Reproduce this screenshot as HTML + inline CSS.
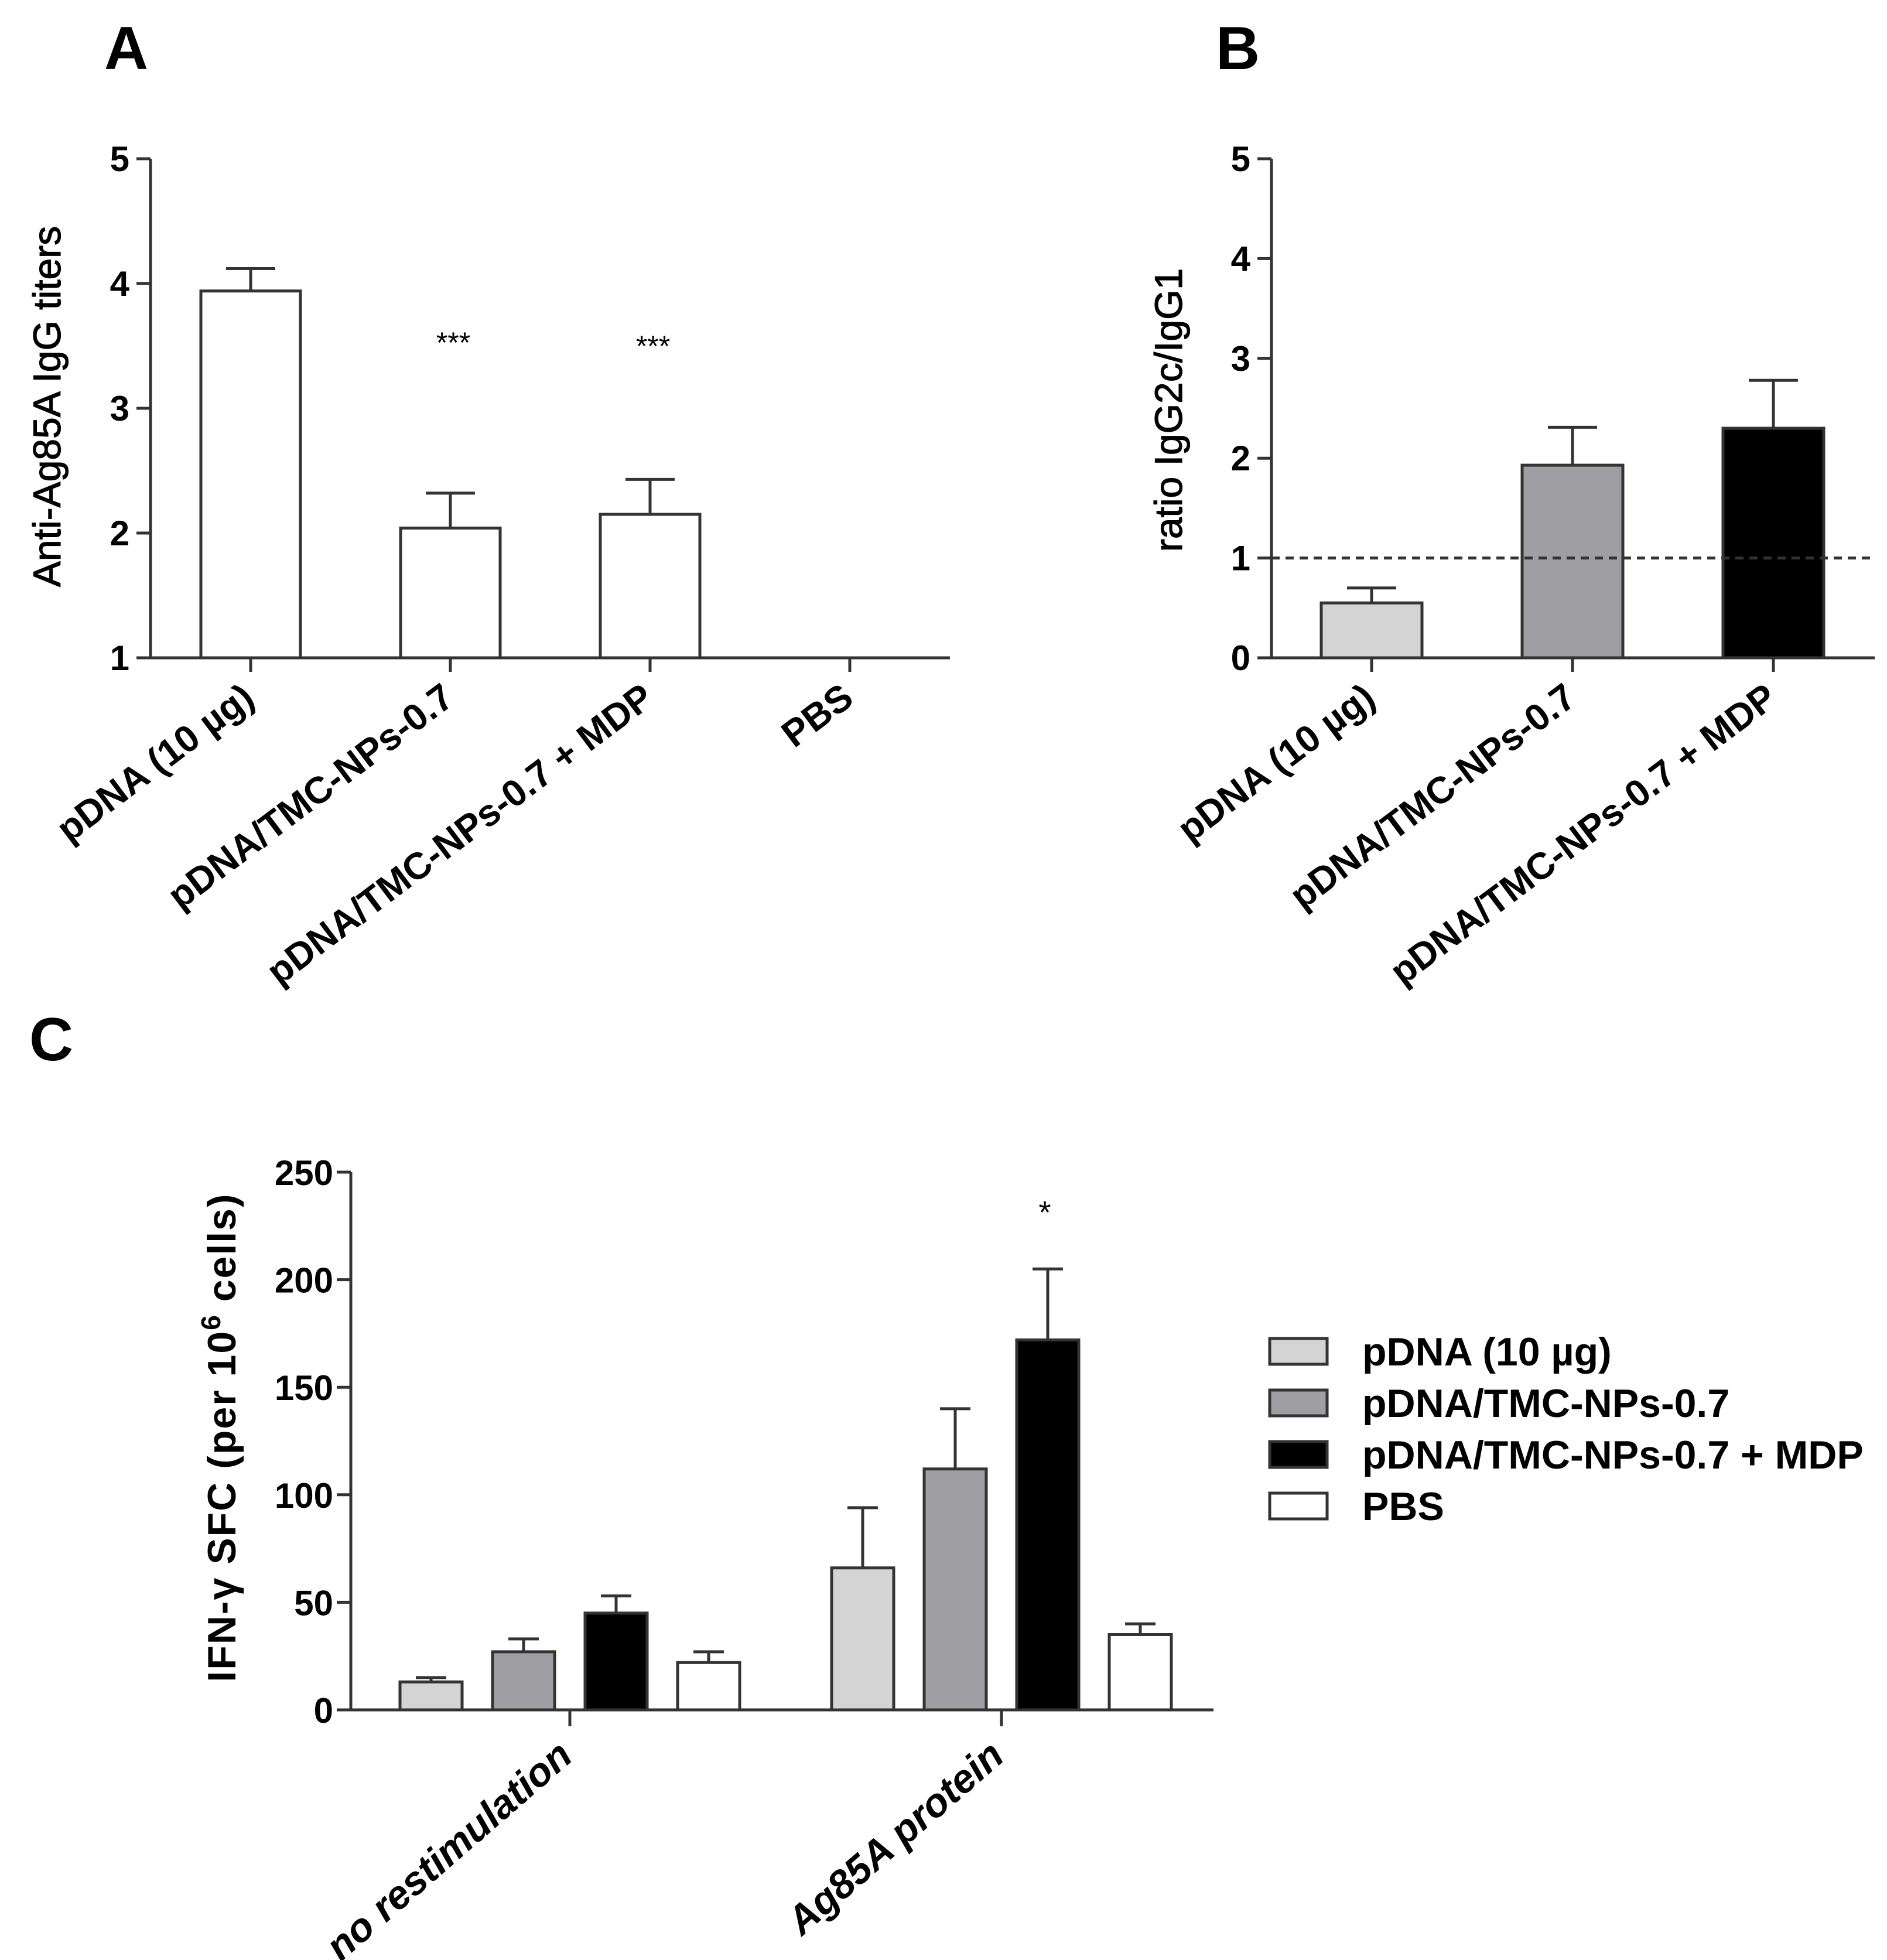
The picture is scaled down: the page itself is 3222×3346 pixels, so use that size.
<!DOCTYPE html>
<html><head><meta charset="utf-8"><style>
html,body{margin:0;padding:0;background:#fff;}
svg{display:block;font-family:"Liberation Sans",Arial,sans-serif;}
</style></head><body>
<svg id="fig" width="3222" height="3346" viewBox="0 0 3222 3346" xmlns="http://www.w3.org/2000/svg">
<rect width="3222" height="3346" fill="#fff"/>
</svg>
<script>
// Panel A data
const catsA = ["pDNA (10 \u00b5g)", "pDNA/TMC-NPs-0.7", "pDNA/TMC-NPs-0.7 + MDP", "PBS"];
const valsA = [3.94, 2.04, 2.15, null];
const errA = [0.18, 0.28, 0.28, null];
const sigA = ["", "***", "***", ""];
const ticksA = [1, 2, 3, 4, 5];
// Panel B data
const catsB = ["pDNA (10 \u00b5g)", "pDNA/TMC-NPs-0.7", "pDNA/TMC-NPs-0.7 + MDP"];
const valsB = [0.55, 1.93, 2.30];
const errB = [0.15, 0.38, 0.48];
const ticksB = [0, 1, 2, 3, 4, 5];
const refLineB = 1;
// Panel C data
const groupsC = ["no restimulation", "Ag85A protein"];
const seriesC = ["pDNA (10 \u00b5g)", "pDNA/TMC-NPs-0.7", "pDNA/TMC-NPs-0.7 + MDP", "PBS"];
const pDNA_C = [13, 66];
const tmc_C = [27, 112];
const mdp_C = [45, 172];
const pbs_C = [22, 35];
const errPDNA_C = [2, 28];
const errTMC_C = [6, 28];
const errMDP_C = [8, 33];
const errPBS_C = [5, 5];
const sigC = [["", "", "", ""], ["", "", "*", ""]];
const ticksC = [0, 50, 100, 150, 200, 250];

const svg = document.getElementById('fig');
const NS = "http://www.w3.org/2000/svg";
function mk(tag, attrs, parent) {
  const e = document.createElementNS(NS, tag);
  for (const k in attrs) e.setAttribute(k, attrs[k]);
  (parent || svg).appendChild(e);
  return e;
}
function txt(s, attrs, parent) { const t = mk('text', attrs, parent); t.textContent = s; return t; }
const fills = ["#d4d4d4", "#9e9ea3", "#000000", "#ffffff"];
const LW = 5;

// ---------- Panel A ----------
(function () {
  const g = mk('g', {});
  
  
  const x0 = 257, x1 = 1622, yTop = 271, yBot = 1123, vMin = 1, vMax = 5;
  const y = v => yBot - (v - vMin) / (vMax - vMin) * (yBot - yTop);
  const step = 341, first = 428, bw = 170;
  const xc = i => first + i * step;
  const L = txt('A', {x: 178, y: 118, 'font-size': 104, 'font-weight': 'bold'}, g);
  
  
  const ax = mk('line', {x1: x0, y1: yTop, x2: x0, y2: yBot, stroke: '#333', 'stroke-width': LW}, g);
  
  
  ticksA.forEach(t => {
    mk('line', {x1: x0 - 24, y1: y(t), x2: x0, y2: y(t), stroke: '#333', 'stroke-width': LW}, g);
    const tl = txt(String(t), {x: x0 - 36, y: y(t) + 21, 'font-size': 60, 'font-weight': 'bold', 'text-anchor': 'end'}, g);
    
    
  });
  const yt = txt('Anti-Ag85A IgG titers', {x: 0, y: 0, 'font-size': 66, 'text-anchor': 'middle', stroke: '#000', 'stroke-width': 1.2, transform: `translate(103,694) rotate(-90)`}, g);
  
  
  catsA.forEach((c, i) => {
    const cx = xc(i);
    if (valsA[i] !== null) {
      const ey = y(valsA[i] + errA[i]);
      mk('line', {x1: cx, y1: y(valsA[i]), x2: cx, y2: ey, stroke: '#333', 'stroke-width': LW}, g);
      mk('line', {x1: cx - 42, y1: ey, x2: cx + 42, y2: ey, stroke: '#333', 'stroke-width': LW}, g);
      const b = mk('rect', {x: cx - bw / 2, y: y(valsA[i]), width: bw, height: yBot - y(valsA[i]), fill: '#fff', stroke: '#333', 'stroke-width': LW}, g);
      
      
    }
    if (sigA[i]) {
      const s = txt(sigA[i], {x: cx + 5, y: 596 + i * 6, 'font-size': 50, 'text-anchor': 'middle'}, g);
      
      
    }
    mk('line', {x1: cx, y1: yBot, x2: cx, y2: yBot + 24, stroke: '#333', 'stroke-width': LW}, g);
    const cl = txt(c, {x: 0, y: 0, 'font-size': 64, 'font-weight': 'bold', 'text-anchor': 'end', transform: `translate(${cx + 10},${yBot + 76}) rotate(-37)`}, g);
    
    
  });
  const xa = mk('line', {x1: x0 - 24, y1: yBot, x2: x1, y2: yBot, stroke: '#333', 'stroke-width': LW}, g);
  
  
})();

// ---------- Panel B ----------
(function () {
  const g = mk('g', {});
  
  
  const x0 = 2171, x1 = 3201, yTop = 271, yBot = 1123, vMin = 0, vMax = 5;
  const y = v => yBot - (v - vMin) / (vMax - vMin) * (yBot - yTop);
  const first = 2342, step = 343, bw = 172;
  const xc = i => first + i * step;
  const L = txt('B', {x: 2076, y: 118, 'font-size': 104, 'font-weight': 'bold'}, g);
  
  
  mk('line', {x1: x0, y1: yTop, x2: x0, y2: yBot, stroke: '#333', 'stroke-width': LW}, g);
  ticksB.forEach(t => {
    mk('line', {x1: x0 - 24, y1: y(t), x2: x0, y2: y(t), stroke: '#333', 'stroke-width': LW}, g);
    const tl = txt(String(t), {x: x0 - 36, y: y(t) + 21, 'font-size': 60, 'font-weight': 'bold', 'text-anchor': 'end'}, g);
    
    
  });
  const yt = txt('ratio IgG2c/IgG1', {x: 0, y: 0, 'font-size': 66, 'text-anchor': 'middle', stroke: '#000', 'stroke-width': 1.2, transform: `translate(2018,700) rotate(-90)`}, g);
  
  
  catsB.forEach((c, i) => {
    const cx = xc(i);
    const ey = y(valsB[i] + errB[i]);
    mk('line', {x1: cx, y1: y(valsB[i]), x2: cx, y2: ey, stroke: '#333', 'stroke-width': LW}, g);
    mk('line', {x1: cx - 42, y1: ey, x2: cx + 42, y2: ey, stroke: '#333', 'stroke-width': LW}, g);
    const b = mk('rect', {x: cx - bw / 2, y: y(valsB[i]), width: bw, height: yBot - y(valsB[i]), fill: fills[i], stroke: '#333', 'stroke-width': LW}, g);
    
    
    mk('line', {x1: cx, y1: yBot, x2: cx, y2: yBot + 24, stroke: '#333', 'stroke-width': LW}, g);
    const cl = txt(c, {x: 0, y: 0, 'font-size': 64, 'font-weight': 'bold', 'text-anchor': 'end', transform: `translate(${cx + 10},${yBot + 76}) rotate(-37)`}, g);
    
    
  });
  const rl = mk('line', {x1: x0, y1: y(refLineB), x2: x1, y2: y(refLineB), stroke: '#333', 'stroke-width': 5, 'stroke-dasharray': '14 10'}, g);
  
  
  mk('line', {x1: x0 - 24, y1: yBot, x2: x1, y2: yBot, stroke: '#333', 'stroke-width': LW}, g);
})();

// ---------- Panel C ----------
(function () {
  const g = mk('g', {});
  
  
  const x0 = 599, x1 = 2072, yTop = 2001, yBot = 2919, vMin = 0, vMax = 250;
  const y = v => yBot - (v - vMin) / (vMax - vMin) * (yBot - yTop);
  const groupCenter = [973, 1710], step = 158, bw = 106;
  const vals = [pDNA_C, tmc_C, mdp_C, pbs_C];
  const errs = [errPDNA_C, errTMC_C, errMDP_C, errPBS_C];
  const L = txt('C', {x: 50, y: 1810, 'font-size': 104, 'font-weight': 'bold'}, g);
  
  
  mk('line', {x1: x0, y1: yTop, x2: x0, y2: yBot, stroke: '#333', 'stroke-width': LW}, g);
  ticksC.forEach(t => {
    mk('line', {x1: x0 - 24, y1: y(t), x2: x0, y2: y(t), stroke: '#333', 'stroke-width': LW}, g);
    const tl = txt(String(t), {x: x0 - 30, y: y(t) + 22, 'font-size': 60, 'font-weight': 'bold', 'text-anchor': 'end'}, g);
    
    
  });
  const yt = mk('text', {x: 0, y: 0, 'font-size': 68, 'font-weight': 'bold', 'text-anchor': 'middle', 'letter-spacing': 2, transform: `translate(402,2454) rotate(-90)`}, g);
  
  
  yt.appendChild(document.createTextNode('IFN-\u03b3 SFC (per 10'));
  const sup = document.createElementNS(NS, 'tspan');
  sup.setAttribute('dy', '-26'); sup.setAttribute('font-size', '46'); sup.textContent = '6';
  yt.appendChild(sup);
  const rest = document.createElementNS(NS, 'tspan');
  rest.setAttribute('dy', '26'); rest.textContent = ' cells)';
  yt.appendChild(rest);
  groupsC.forEach((grp, gi) => {
    const gc = groupCenter[gi];
    seriesC.forEach((s, si) => {
      const cx = gc + (si - 1.5) * step;
      const v = vals[si][gi], e = errs[si][gi];
      const ey = y(v + e);
      mk('line', {x1: cx, y1: y(v), x2: cx, y2: ey, stroke: '#333', 'stroke-width': LW}, g);
      mk('line', {x1: cx - 26, y1: ey, x2: cx + 26, y2: ey, stroke: '#333', 'stroke-width': LW}, g);
      const b = mk('rect', {x: cx - bw / 2, y: y(v), width: bw, height: yBot - y(v), fill: fills[si], stroke: '#333', 'stroke-width': LW}, g);
      
      
      if (sigC[gi][si]) {
        const st = txt(sigC[gi][si], {x: cx - 5, y: ey - 78, 'font-size': 54, 'text-anchor': 'middle'}, g);
        
        
      }
    });
    mk('line', {x1: gc, y1: yBot, x2: gc, y2: yBot + 28, stroke: '#333', 'stroke-width': LW}, g);
    const cl = txt(grp, {x: 0, y: 0, 'font-size': 68, 'font-weight': 'bold', 'font-style': 'italic', 'text-anchor': 'end', transform: `translate(${gc + 8},${yBot + 84}) rotate(-41)`}, g);
    
    
  });
  mk('line', {x1: x0 - 24, y1: yBot, x2: x1, y2: yBot, stroke: '#333', 'stroke-width': LW}, g);
  // legend
  const lg = mk('g', {}, g);
  
  
  seriesC.forEach((s, i) => {
    const yy = 2307 + i * 88;
    const r = mk('rect', {x: 2168, y: yy - 22, width: 98, height: 44, fill: fills[i], stroke: '#333', 'stroke-width': LW}, lg);
    
    
    const t = txt(s, {x: 2326, y: yy + 24, 'font-size': 68, 'font-weight': 'bold'}, lg);
    
    
  });
})();
</script>
</body></html>
